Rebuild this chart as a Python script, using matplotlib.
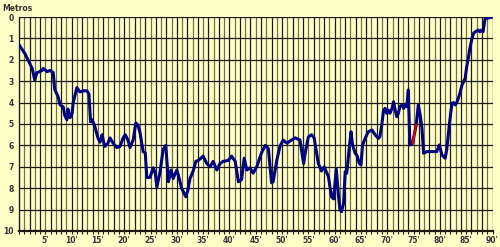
import matplotlib.pyplot as plt
import numpy as np

# depth profile, minutes vs metres
minutes = [0, 1.1, 1.7, 2.5, 3.0, 3.4, 4.4, 4.6, 5.3, 5.9, 6.5, 6.8, 7.4, 7.8, 8.4, 8.7,
           9.1, 9.3, 9.7, 10.1, 10.3, 11.0, 11.6, 12.2, 12.9, 13.3, 13.6, 13.9, 14.4,
           15.0, 15.4, 15.8, 16.0, 16.3, 16.9, 17.3, 17.9, 18.6, 19.2, 19.8, 20.2, 20.7,
           21.1, 21.7, 22.2, 22.6, 23.0, 23.6, 24.0, 24.3, 24.9, 25.5, 25.9, 26.2, 26.8,
           27.4, 27.9, 28.4, 28.9, 29.3, 30.0, 30.3, 30.6, 30.9, 31.2, 31.7, 32.1, 32.5,
           33.1, 33.6, 34.1, 35.0, 35.4, 35.7, 36.3, 36.9, 37.6, 38.2, 38.8, 39.8, 40.4,
           41.1, 41.7, 42.3, 42.8, 43.3, 43.9, 44.5, 45.2, 46.1, 46.8, 47.4, 48.0, 48.3,
           49.0, 49.6, 50.2, 50.9, 51.8, 52.5, 53.4, 54.1, 54.4, 55.0, 55.6, 56.1, 56.9,
           57.5, 58.0, 58.8, 59.4, 59.8, 60.3, 60.7, 61.0, 61.3, 61.7, 62.0, 62.3, 62.6,
           63.1, 63.4, 63.9, 64.2, 64.7, 65.0, 65.3, 65.8, 66.4, 67.1, 67.7, 68.3, 68.6,
           68.95, 69.3, 69.6, 69.9, 70.2, 70.5, 70.9, 71.2, 71.5, 71.8, 72.1, 72.4, 72.8,
           73.1, 73.4, 73.7, 74.0, 74.2, 74.3, 74.8, 75.5, 75.7, 75.9, 76.2, 76.6, 76.9,
           77.5, 78.1, 78.8, 79.4, 79.9, 80.4, 81.0, 81.3, 81.6, 81.9, 82.3, 82.6, 82.9,
           83.2, 83.5, 83.8, 84.2, 84.5, 84.8, 85.1, 85.4, 85.7, 86.1, 86.4, 86.7, 87.3,
           87.6, 87.9, 88.2, 88.6, 88.9, 90.0]
depth = [1.3, 1.7, 2.0, 2.4, 2.95, 2.6, 2.5, 2.4, 2.55, 2.5, 2.6, 3.4, 3.7, 4.1, 4.2, 4.6,
         4.8, 4.3, 4.7, 4.5, 4.0, 3.3, 3.5, 3.45, 3.45, 3.6, 4.9, 4.8, 5.1,
         5.65, 5.85, 5.5, 5.75, 6.05, 5.9, 5.65, 5.9, 6.1, 6.05, 5.65, 5.5, 5.75,
         6.1, 5.75, 4.95, 5.05, 5.4, 6.3, 6.35, 7.5, 7.5, 7.05, 7.3, 7.95, 7.25,
         6.2, 6.0, 7.7, 7.15, 7.55, 7.15, 7.4, 7.7, 8.0, 8.15, 8.4, 8.1, 7.55,
         7.2, 6.75, 6.7, 6.5, 6.7, 6.85, 7.0, 6.75, 7.15, 6.85, 6.75, 6.7, 6.5,
         6.75, 7.7, 7.6, 6.6, 7.15, 7.05, 7.3, 7.0, 6.35, 6.0, 6.15, 7.75, 7.7,
         6.7, 6.05, 5.75, 5.9, 5.75, 5.65, 5.75, 6.85, 6.35, 5.6, 5.5, 5.65, 6.85,
         7.2, 7.0, 7.45, 8.4, 8.5, 7.1, 8.3, 9.0, 9.1, 8.7, 7.23, 7.3, 6.53,
         5.36, 5.98, 6.37, 6.45, 6.84, 6.92, 5.98, 5.67, 5.36, 5.28, 5.51, 5.67, 5.59,
         5.05, 4.35, 4.27, 4.5, 4.35, 4.5, 4.27, 3.96, 4.35, 4.66, 4.5, 4.19, 4.11,
         4.27, 4.11, 4.19, 3.41, 5.05, 5.98, 5.9, 5.05, 4.58, 4.11, 4.5, 5.2, 6.37,
         6.29, 6.29, 6.29, 6.29, 5.98, 6.45, 6.6, 6.2, 5.5, 4.8, 4.03, 4.0, 4.11,
         4.0, 3.8, 3.57, 3.18, 3.02, 2.87, 2.32, 1.93, 1.46, 1.0, 0.76, 0.69, 0.61,
         0.69, 0.61, 0.69, 0.06, 0.06, 0.0]

# short red piece near 75'
red_minutes = [74.8, 75.5]
red_depth = [5.9, 5.05]

x_labels = ["%d'" % m for m in range(5, 95, 5)]

bg = '#FFFFC8'
fig = plt.figure(figsize=(5, 2.47), dpi=100, facecolor=bg)
ax = fig.add_axes([0.038, 0.065, 0.947, 0.866], facecolor=bg)

# one vertical line per minute, alternating dark / olive
cols = ['#1a1a10' if m % 2 == 0 else '#70704a' for m in range(1, 91)]
ax.vlines(np.arange(1, 91), 0, 10, colors=cols, linewidth=0.9, zorder=1)
ax.hlines(np.arange(0, 10), 0, 90, colors='#1a1a10', linewidth=0.9, zorder=1)

ax.plot(minutes, depth, color='#000080', linewidth=2.2, zorder=3,
        solid_joinstyle='round')
ax.plot(red_minutes, red_depth, color='#e00000', linewidth=1.6, zorder=4)

ax.set_xlim(0, 90)
ax.set_ylim(10, 0)

ax.set_yticks(range(0, 11))
ax.set_yticklabels([str(i) for i in range(0, 11)])
ax.set_xticks(range(5, 95, 5))
ax.set_xticklabels(x_labels)
ax.set_xticks(range(0, 91), minor=True)

ax.tick_params(axis='y', length=0, pad=4, labelsize=5.5, labelcolor='#333333')
ax.tick_params(axis='x', which='both', length=2.2, width=0.8, direction='out',
               pad=1.5, labelsize=5.5, labelcolor='#333333', color='#1a1a10')
for lab in ax.get_xticklabels() + ax.get_yticklabels():
    lab.set_fontweight('bold')

for s in ['top', 'right']:
    ax.spines[s].set_visible(False)
ax.spines['left'].set_color('#1a1a10')
ax.spines['left'].set_linewidth(1.0)
ax.spines['bottom'].set_color('#1a1a10')
ax.spines['bottom'].set_linewidth(1.6)

fig.text(0.004, 0.965, 'Metros', fontsize=5.5, fontweight='bold', color='#333333',
         va='center', ha='left')

fig.savefig('out.png', dpi=100, facecolor=bg)
